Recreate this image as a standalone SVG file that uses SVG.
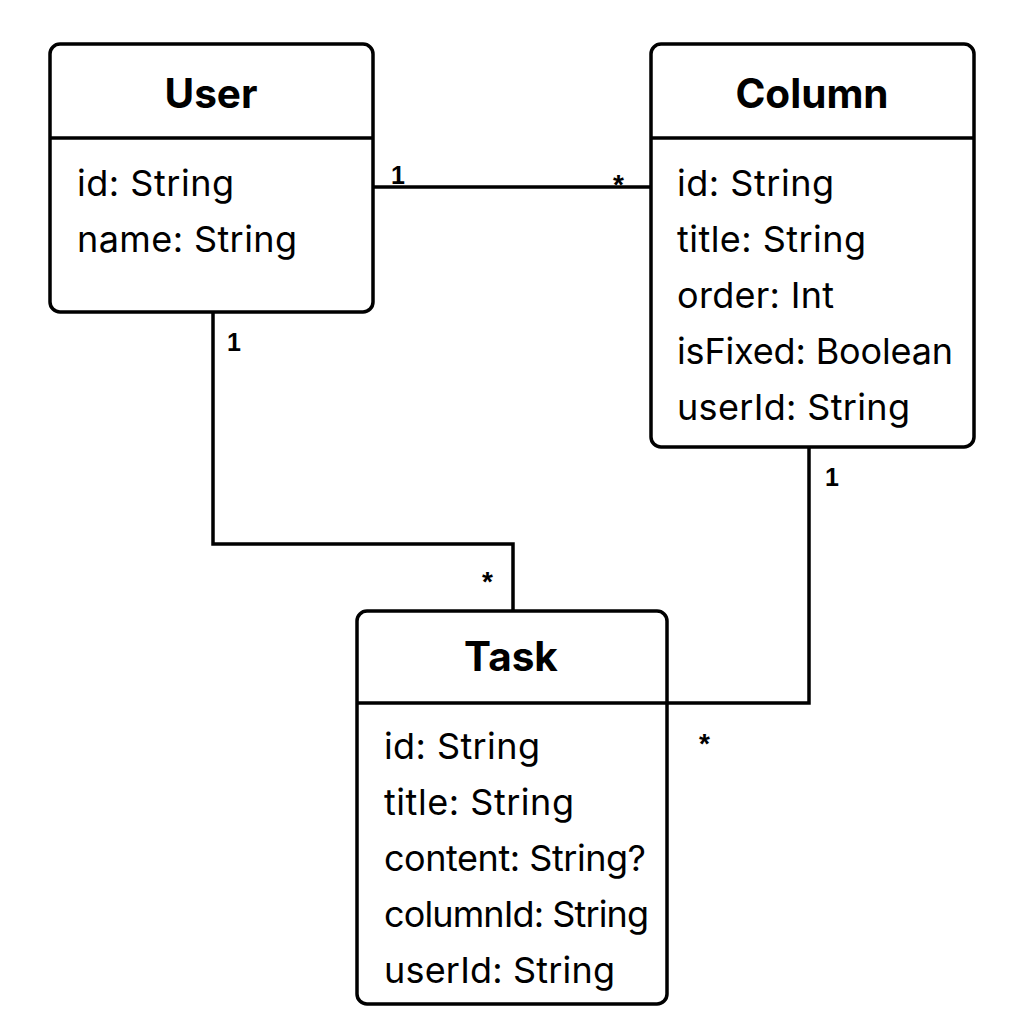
<svg xmlns="http://www.w3.org/2000/svg" width="1024" height="1024" viewBox="0 0 1024 1024">
<style>
.box{fill:#fff;stroke:#000;stroke-width:3.5}
.div{stroke:#000;stroke-width:3.5}
.title{font-family:Inter,"Liberation Sans",sans-serif;font-weight:700;font-size:40.5px;text-anchor:middle;fill:#000}
.attr{font-family:Inter,"Liberation Sans",sans-serif;font-size:36px;fill:#000}
.conn{fill:none;stroke:#000;stroke-width:3.5}
.mult{font-family:"Liberation Sans",Arial,sans-serif;font-weight:700;font-size:25px;fill:#000}
.star{font-family:"Liberation Sans",Arial,sans-serif;font-weight:700;font-size:28px;fill:#000}
</style>
<rect width="1024" height="1024" fill="#fff"/>
<g id="connectors">
<path class="conn" d="M373 187 H651"/>
<path class="conn" d="M213 312 V544 H513 V611"/>
<path class="conn" d="M809 447 V703 H667"/>
<text class="mult" x="391" y="184">1</text>
<text class="star" x="613" y="194">*</text>
<text class="mult" x="227" y="351">1</text>
<text class="star" x="482" y="591">*</text>
<text class="mult" x="825" y="486">1</text>
<text class="star" x="699" y="753">*</text>
</g>
<g id="User">
<rect class="box" x="50" y="44" width="323" height="268" rx="10"/>
<line class="div" x1="50" y1="138" x2="373" y2="138"/>
<text class="title" x="211" y="108">User</text>
<text class="attr" x="77" y="196" textLength="157">id: String</text>
<text class="attr" x="77" y="252" textLength="220">name: String</text>
</g>
<g id="Column">
<rect class="box" x="651" y="44" width="323" height="403" rx="10"/>
<line class="div" x1="651" y1="138" x2="974" y2="138"/>
<text class="title" x="812" y="108">Column</text>
<text class="attr" x="677" y="196" textLength="157">id: String</text>
<text class="attr" x="677" y="252" textLength="189">title: String</text>
<text class="attr" x="677" y="308" textLength="157">order: Int</text>
<text class="attr" x="677" y="364" textLength="276">isFixed: Boolean</text>
<text class="attr" x="677" y="420" textLength="233">userId: String</text>
</g>
<g id="Task">
<rect class="box" x="357" y="611" width="310" height="393" rx="10"/>
<line class="div" x1="357" y1="703" x2="667" y2="703"/>
<text class="title" x="511" y="671">Task</text>
<text class="attr" x="384" y="759" textLength="156">id: String</text>
<text class="attr" x="384" y="815" textLength="190">title: String</text>
<text class="attr" x="384" y="871" textLength="262">content: String?</text>
<text class="attr" x="384" y="927" textLength="265">columnId: String</text>
<text class="attr" x="384" y="983" textLength="231">userId: String</text>
</g>
</svg>
